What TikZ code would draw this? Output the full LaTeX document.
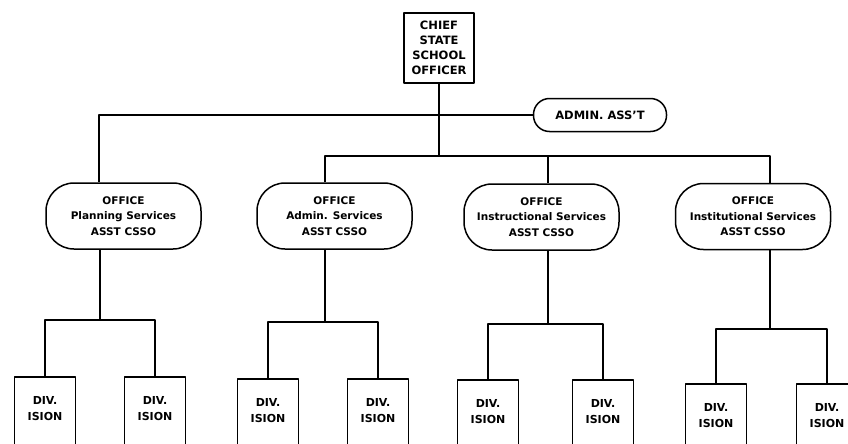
\documentclass[tikz,border=0pt]{standalone}
\usepackage{fontspec}
\setmainfont{DejaVu Sans}
\begin{document}
\begin{tikzpicture}[x=1pt,y=-1pt,
  line width=1.5pt, line join=round,
  txt/.style={font=\bfseries\fontsize{11.5}{15}\selectfont, align=center},
  chief/.style={draw, txt, minimum width=70pt, minimum height=70pt, inner sep=2pt},
  pill/.style={draw, txt, rounded corners=16pt, minimum width=133pt, minimum height=33pt},
  office/.style={draw, txt, font=\bfseries\fontsize{10.5}{15.5}\selectfont,
    rounded corners=28pt, minimum width=155pt, minimum height=66pt},
  divbox/.style={draw, minimum width=61pt, minimum height=80pt, anchor=north,
    label={[txt, anchor=north, yshift=-16pt, font=\bfseries\fontsize{11}{16}\selectfont]north:DIV.\\ISION}}
]
\useasboundingbox (0,0) rectangle (848,444);
\clip (0,0) rectangle (848,444);

% top level
\node[chief] (cso) at (439,48) {CHIEF\\STATE\\SCHOOL\\OFFICER};
\node[pill] (adm) at (600,115) {ADMIN. ASS'T};

% offices
\node[office] (o1) at (123.5,216) {OFFICE\\Planning Services\\ASST CSSO};
\node[office] (o2) at (334.5,216) {OFFICE\\Admin. Services\\ASST CSSO};
\node[office] (o3) at (541.5,217) {OFFICE\\Instructional Services\\ASST CSSO};
\node[office] (o4) at (753,216.5) {OFFICE\\Institutional Services\\ASST CSSO};

% divisions
\node[divbox] (d1) at (45,376) {};
\node[divbox] (d2) at (155,376) {};
\node[divbox] (d3) at (268,378) {};
\node[divbox] (d4) at (378,378) {};
\node[divbox] (d5) at (488,379) {};
\node[divbox] (d6) at (603,379) {};
\node[divbox] (d7) at (716,383) {};
\node[divbox] (d8) at (827,383) {};

% drop lines of the offices
\coordinate (xa) at (99,0);
\coordinate (xb) at (325,0);
\coordinate (xc) at (548,0);
\coordinate (xd) at (770,0);
\coordinate (bus) at (439,156);

% upper connectors
\draw (adm.west) -| (o1.north -| xa);
\draw (cso.south) -- (bus);
\draw (o2.north -| xb) |- (bus) -| (o4.north -| xd);
\draw (bus -| xc) -- (o3.north -| xc);

% lower connectors
\coordinate (j1) at (100,320);
\coordinate (j2) at (325,322);
\coordinate (j3) at (548,324);
\coordinate (j4) at (770,329);
\draw (o1.south -| j1) -- (j1);
\draw (o2.south -| j2) -- (j2);
\draw (o3.south -| j3) -- (j3);
\draw (o4.south -| j4) -- (j4);
\draw (d1.north) |- (j1) -| (d2.north);
\draw (d3.north) |- (j2) -| (d4.north);
\draw (d5.north) |- (j3) -| (d6.north);
\draw (d7.north) |- (j4) -| (d8.north);
\end{tikzpicture}
\end{document}
